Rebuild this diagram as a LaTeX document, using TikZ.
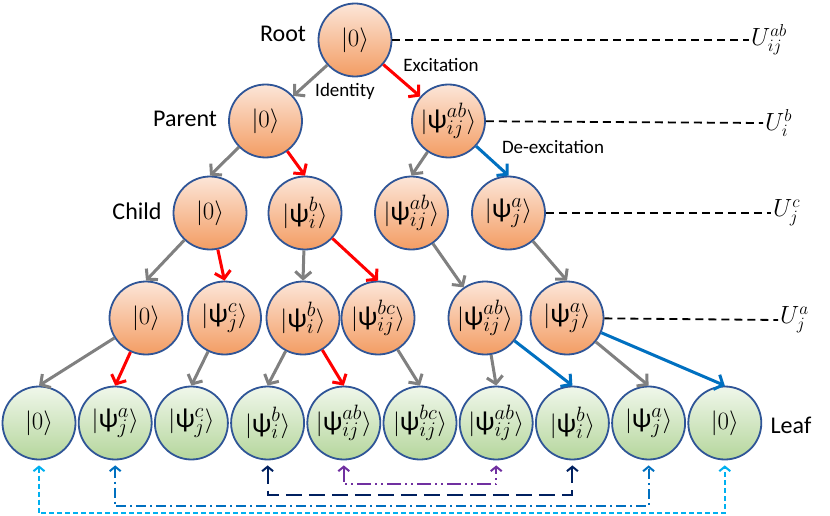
\documentclass[tikz,border=0pt]{standalone}
\usepackage{fontspec}
\setmainfont{Carlito}
\usetikzlibrary{positioning,arrows.meta}
\definecolor{PeachTop}{HTML}{FCE6D8}
\definecolor{PeachBot}{HTML}{F39C63}
\definecolor{MintTop}{HTML}{F0F7EB}
\definecolor{MintBot}{HTML}{B5D69C}
\definecolor{RimBlue}{HTML}{2F5597}
\definecolor{StemGray}{HTML}{808080}
\definecolor{RelaxBlue}{HTML}{0070C0}
\definecolor{SkyBlue}{HTML}{00B0F0}
\definecolor{NavyBlue}{HTML}{002060}
\definecolor{PlumPurple}{HTML}{7030A0}
\newcommand{\wf}{\mbox{ψ}}
\newcommand{\kt}[1]{$|#1\rangle$}
\newcommand{\kp}[2]{$\bigl|\wf^{#1}_{#2}\bigr\rangle$}

\begin{document}
\begin{tikzpicture}[x=1pt,y=-1pt,on grid,
  orb/.style={circle,draw=RimBlue,line width=1.8pt,minimum size=73pt,inner sep=0pt,top color=PeachTop,bottom color=PeachBot,font=\fontsize{27.5}{29}\selectfont},
  leaf/.style={orb,top color=MintTop,bottom color=MintBot},
  tag/.style={font=\fontsize{24}{26}\selectfont,inner sep=0pt},
  note/.style={font=\fontsize{19}{21}\selectfont,inner sep=0pt},
  keep/.style={->,>={Straight Barb[length=7pt,width=16pt]},line width=3pt,draw=StemGray},
  excite/.style={keep,draw=red},
  relax/.style={keep,draw=RelaxBlue},
  guide/.style={dash pattern=on 8pt off 5pt,line width=1.8pt},
  ulabel/.style={anchor=west,inner sep=2pt,font=\fontsize{25}{27}\selectfont},
  link/.style={<->,>={Straight Barb[length=4.5pt,width=11pt]},line width=2pt}]
  \path[use as bounding box,fill=white] (0,0) rectangle (830,516);

  % tree
  \node[orb] (root) at (355,40) {\kt{0}};
  \node[orb,below left=81pt and 89.5pt of root] (p0) {\kt{0}};
  \node[orb,below right=81pt and 93.5pt of root] (p1) {\kp{ab}{ij}};
  \node[orb,below left=92pt and 55.5pt of p0] (c0) {\kt{0}};
  \node[orb,below right=92pt and 39.5pt of p0] (c1) {\kp{b}{i}};
  \node[orb,below left=92pt and 37pt of p1] (c2) {\kp{ab}{ij}};
  \node[orb,below right=92pt and 60pt of p1] (c3) {\kp{a}{j}};
  \node[orb,below left=105pt and 64pt of c0] (g0) {\kt{0}};
  \node[orb,below right=105pt and 14.5pt of c0] (g1) {\kp{c}{j}};
  \node[orb,below left=105pt and 2pt of c1] (g2) {\kp{b}{i}};
  \node[orb,below right=105pt and 73pt of c1] (g3) {\kp{bc}{ij}};
  \node[orb,below right=105pt and 73.5pt of c2] (g4) {\kp{ab}{ij}};
  \node[orb,below right=105pt and 58.5pt of c3] (g5) {\kp{a}{j}};

  % leaves
  \node[leaf] (l1) at (39,423) {\kt{0}};
  \node[leaf,right=76.2pt of l1] (l2) {\kp{a}{j}};
  \node[leaf,right=76.2pt of l2] (l3) {\kp{c}{j}};
  \node[leaf,right=76.2pt of l3] (l4) {\kp{b}{i}};
  \node[leaf,right=76.2pt of l4] (l5) {\kp{ab}{ij}};
  \node[leaf,right=76.2pt of l5] (l6) {\kp{bc}{ij}};
  \node[leaf,right=76.2pt of l6] (l7) {\kp{ab}{ij}};
  \node[leaf,right=76.2pt of l7] (l8) {\kp{b}{i}};
  \node[leaf,right=76.2pt of l8] (l9) {\kp{a}{j}};
  \node[leaf,right=76.2pt of l9] (l10) {\kt{0}};

  % level names and edge notes
  \node[tag] (rootname) at (283,34) {Root};
  \node[tag] (parentname) at (185,119) {Parent};
  \node[tag] (childname) at (137,211) {Child};
  \node[tag] (leafname) at (791,425) {Leaf};
  \node[note] (idnote) at (345,91) {Identity};
  \node[note] (exnote) at (441,65) {Excitation};
  \node[note] (denote) at (553,147) {De-excitation};

  % operators
  \node[ulabel] (uab) at (749,40) {$U^{ab}_{ij}$};
  \node[ulabel] (ub) at (763,123) {$U^{b}_{i}$};
  \node[ulabel] (uc) at (771,213) {$U^{c}_{j}$};
  \node[ulabel] (ua) at (778,320) {$U^{a}_{j}$};
  \draw[guide] (root) -- (uab.west);
  \draw[guide] (p1) -- (ub.west);
  \draw[guide] (c3) -- (uc.west);
  \draw[guide] (g5) -- (ua.west);

  % branches
  \draw[keep] (root) -- (p0);
  \draw[excite] (root) -- (p1);
  \draw[keep] (p0) -- (c0.north);
  \draw[excite] (p0) -- (c1.north);
  \draw[keep] (p1) -- (c2.north);
  \draw[relax] (p1) -- (c3.north);
  \draw[keep] (c0) -- (g0.north);
  \draw[excite] (c0) -- (g1.north);
  \draw[keep] (c1) -- (g2.north);
  \draw[excite] (c1) -- (g3.north);
  \draw[keep] (c2) -- (g4);
  \draw[keep] (c3) -- (g5.north);
  \draw[keep] (g0) -- (l1.north);
  \draw[excite] (g0) -- (l2.north);
  \draw[keep] (g1) -- (l3.north);
  \draw[keep] (g2) -- (l4.north);
  \draw[excite] (g2) -- (l5.north);
  \draw[keep] (g3) -- (l6.north);
  \draw[keep] (g4) -- (l7.north);
  \draw[relax] (g4) -- (l8.north);
  \draw[keep] (g5) -- (l9.north);
  \draw[relax] (g5) -- (l10.north);

  % leaf pairs
  \draw[link,SkyBlue,dash pattern=on 5pt off 3pt] ([yshift=-5pt]l1.south) |- ([yshift=-53pt]l10.south) -- ([yshift=-5pt]l10.south);
  \draw[link,RelaxBlue,dash pattern=on 10pt off 4pt on 2pt off 4pt] ([yshift=-5pt]l2.south) |- ([yshift=-46pt]l9.south) -- ([yshift=-5pt]l9.south);
  \draw[link,NavyBlue,dash pattern=on 16pt off 7pt] ([yshift=-5pt]l4.south) |- ([yshift=-35pt]l8.south) -- ([yshift=-5pt]l8.south);
  \draw[link,PlumPurple,dash pattern=on 14pt off 4pt on 2pt off 4pt on 2pt off 4pt] ([yshift=-5pt]l5.south) |- ([yshift=-24pt]l7.south) -- ([yshift=-5pt]l7.south);
\end{tikzpicture}
\end{document}
